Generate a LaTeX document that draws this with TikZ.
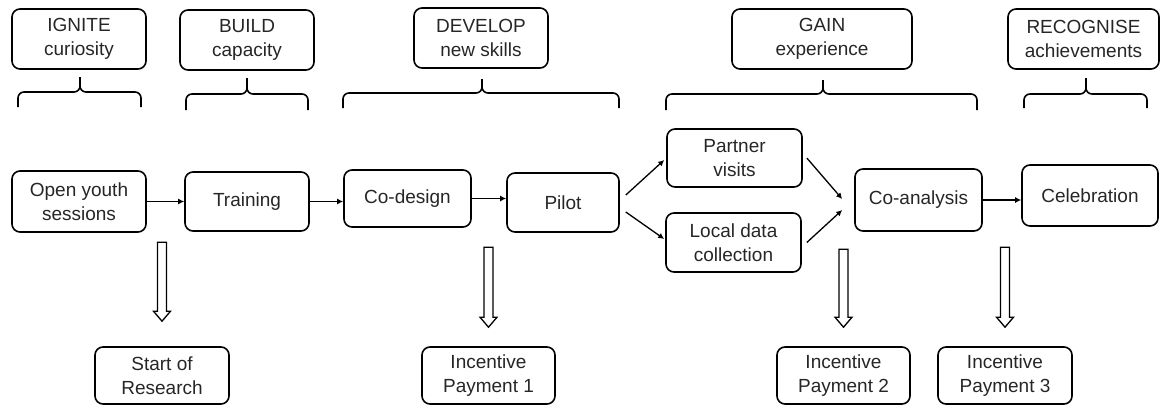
\documentclass[tikz,border=0pt]{standalone}
\usepackage{fontspec}
\setmainfont{Liberation Sans}
\usetikzlibrary{arrows.meta,calc}
\newcommand{\hollowdown}[3]{%
  \draw[hollow] ([yshift=#2]#1.north) -- ++(8.5,10) -- ++(-4,0) -- ++(0,#3) -- ++(-9,0) -- ++(0,-#3) -- ++(-4,0) -- cycle;}
\begin{document}
\begin{tikzpicture}[x=1pt,y=1pt,
  box/.style={draw=black, line width=1.6pt, rounded corners=8pt, align=center,
    inner sep=0pt, font=\fontsize{19}{24}\selectfont, text=black!85},
  flow/.style={line width=1.3pt, -{Latex[length=6pt,width=6pt]}},
  bracestyle/.style={line width=1.6pt, rounded corners=6pt},
  hollow/.style={line width=1.3pt, line join=miter}]
\useasboundingbox (0,0) rectangle (1162,-405);

% top phase boxes
\node[box, minimum width=134pt, minimum height=60pt] (ignite) at (79,-39) {IGNITE\\curiosity};
\node[box, minimum width=134pt, minimum height=60pt] (build) at (247,-40) {BUILD\\capacity};
\node[box, minimum width=134pt, minimum height=60pt] (develop) at (481,-38) {DEVELOP\\new skills};
\node[box, minimum width=180pt, minimum height=60pt] (gain) at (822,-39) {GAIN\\experience};
\node[box, minimum width=151pt, minimum height=60pt] (recognise) at (1083.5,-39) {RECOGNISE\\achievements};

% braces
\draw[bracestyle] (18,-107) |- (80,-92) -- (80,-77);
\draw[bracestyle] (141,-107) |- (80,-92) -- (80,-77);
\draw[bracestyle] (186,-110) |- (247,-94) -- (247,-78);
\draw[bracestyle] (308,-110) |- (247,-94) -- (247,-78);
\draw[bracestyle] (343,-108) |- (482,-93) -- (482,-79);
\draw[bracestyle] (619,-108) |- (482,-93) -- (482,-79);
\draw[bracestyle] (666,-110) |- (823,-94) -- (823,-80);
\draw[bracestyle] (977,-110) |- (823,-94) -- (823,-80);
\draw[bracestyle] (1024,-108) |- (1086,-94) -- (1086,-78);
\draw[bracestyle] (1147,-108) |- (1086,-94) -- (1086,-78);

% main row
\node[box, minimum width=134pt, minimum height=61pt] (open) at (79,-201.5) {Open youth\\sessions};
\node[box, minimum width=124pt, minimum height=59pt] (training) at (247,-201.5) {Training};
\node[box, minimum width=127pt, minimum height=57pt] (codesign) at (407.5,-198.5) {Co-design};
\node[box, minimum width=112pt, minimum height=59pt] (pilot) at (563,-202.5) {Pilot};
\node[box, minimum width=135pt, minimum height=58pt] (partner) at (734.5,-158) {Partner\\visits};
\node[box, minimum width=135pt, minimum height=59pt] (local) at (733.5,-242.5) {Local data\\collection};
\node[box, minimum width=127pt, minimum height=62pt] (coanalysis) at (918.5,-200) {Co-analysis};
\node[box, minimum width=136pt, minimum height=61pt] (celebration) at (1090,-195.5) {Celebration};

% bottom row
\node[box, minimum width=134pt, minimum height=57pt] (start) at (162,-375.5) {Start of\\Research};
\node[box, minimum width=133pt, minimum height=57pt] (inc1) at (488.5,-375.5) {Incentive\\Payment 1};
\node[box, minimum width=133pt, minimum height=57pt] (inc2) at (843.5,-375.5) {Incentive\\Payment 2};
\node[box, minimum width=134pt, minimum height=57pt] (inc3) at (1005,-375.5) {Incentive\\Payment 3};

% flow arrows
\draw[flow] (open.east) -- (training.west);
\draw[flow] (training.east) -- (training.east -| codesign.west);
\draw[flow] (codesign.east) -- (codesign.east -| pilot.west);
\draw[flow] ([xshift=6pt,yshift=7.5pt]pilot.east) -- ([xshift=-2pt,yshift=-2pt]partner.west);
\draw[flow] ([xshift=6pt,yshift=-9.5pt]pilot.east) -- ([xshift=-1pt,yshift=3.5pt]local.west);
\draw[flow] ([xshift=4pt]partner.east) -- ([xshift=-12pt,yshift=1pt]coanalysis.west);
\draw[flow] ([xshift=5pt]local.east) -- ([xshift=-12pt,yshift=-10pt]coanalysis.west);
\draw[flow] (coanalysis.east) -- (coanalysis.east -| celebration.west);

% hollow downward arrows
\hollowdown{start}{25pt}{69}
\hollowdown{inc1}{19pt}{70}
\hollowdown{inc2}{19pt}{68}
\hollowdown{inc3}{19pt}{70}
\end{tikzpicture}
\end{document}
